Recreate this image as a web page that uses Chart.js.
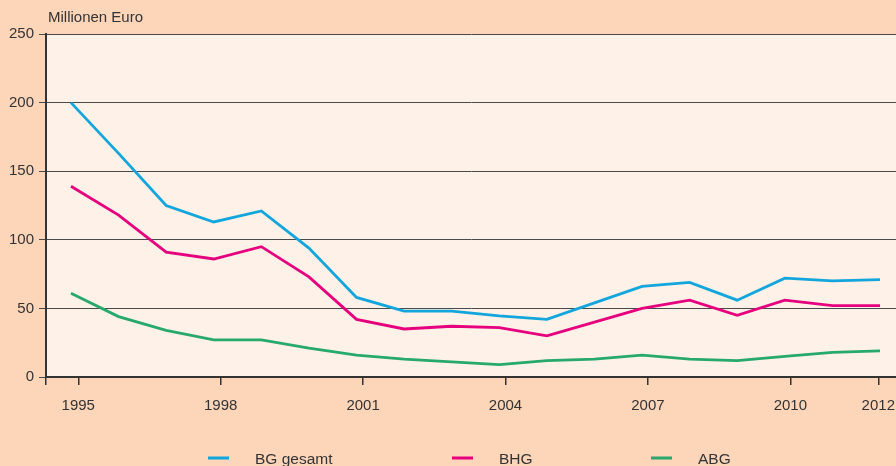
<!DOCTYPE html>
<html>
<head>
<meta charset="utf-8">
<script src="https://cdn.jsdelivr.net/npm/chart.js@4/dist/chart.umd.min.js"></script>
<style>
html,body{margin:0;padding:0;background:#fdd5b9;}
#wrap{width:896px;height:466px;position:relative;}
</style>
</head>
<body>
<div id="wrap"><canvas id="c" width="896" height="466"></canvas></div>
<script>
const years = [1995,1996,1997,1998,1999,2000,2001,2002,2003,2004,2005,2006,2007,2008,2009,2010,2011,2012];
const bgGesamt = [200,163,125,113,121,94,58,48,48,44.5,42,54,66,69,56,72,70,71];
const bhg = [139,118,91,86,95,73,42,35,37,36,30,40,50,56,45,56,52,52];
const abg = [61,44,34,27,27,21,16,13,11,9,12,13,16,13,12,15,18,19];
const tickYears = [1995,1998,2001,2004,2007,2010,2012];
const seriesNames = ['BG gesamt','BHG','ABG'];
const seriesColors = ['#13a6dc','#e6007e','#27a96b'];
const yTitle = 'Millionen Euro';

const FONT = '"Liberation Sans", Arial, sans-serif';
// the last year tick sits slightly left of its even position in the original layout
const LAST_TICK_SHIFT = -0.147;

const bgPlugin = {
  id: 'bgPlugin',
  beforeDraw(chart) {
    const ctx = chart.ctx, a = chart.chartArea;
    ctx.save();
    ctx.fillStyle = '#fdd5b9';
    ctx.fillRect(0, 0, chart.width, chart.height);
    ctx.fillStyle = '#fdf1e8';
    ctx.fillRect(a.left, a.top, a.right - a.left, a.bottom - a.top);
    ctx.restore();
  },
  afterDraw(chart) {
    const ctx = chart.ctx;
    ctx.save();
    ctx.font = '15px ' + FONT;
    ctx.fillStyle = '#333';
    ctx.textBaseline = 'middle';
    ctx.textAlign = 'left';
    ctx.fillText(yTitle, 48, 18);
    const lx = [208, 452, 651];
    chart.data.datasets.forEach((ds, i) => {
      ctx.strokeStyle = ds.borderColor;
      ctx.lineWidth = 3;
      ctx.beginPath();
      ctx.moveTo(lx[i], 458);
      ctx.lineTo(lx[i] + 21, 458);
      ctx.stroke();
      ctx.fillStyle = '#333';
      ctx.font = '15.5px ' + FONT;
      ctx.fillText(ds.label, lx[i] + 47, 460);
    });
    ctx.restore();
  }
};

const mk = (arr) => years.map((y, i) => ({x: y, y: arr[i]}));
const lastYear = tickYears[tickYears.length - 1];
const tickPos = tickYears.map(v => v === lastYear ? v + LAST_TICK_SHIFT : v);

new Chart(document.getElementById('c'), {
  type: 'line',
  data: {
    datasets: [bgGesamt, bhg, abg].map((arr, i) => ({
      label: seriesNames[i],
      data: mk(arr),
      borderColor: seriesColors[i],
      backgroundColor: seriesColors[i],
      borderWidth: 2.8,
      pointRadius: 0,
      tension: 0,
      xAxisID: 'x',
      yAxisID: 'y'
    }))
  },
  options: {
    responsive: false,
    animation: false,
    devicePixelRatio: 1,
    layout: {padding: {top: 34, right: 0, left: 0, bottom: 0}},
    plugins: {legend: {display: false}, tooltip: {enabled: false}},
    scales: {
      x: {
        type: 'linear', display: false, min: 1994.475, max: 2012.336
      },
      x2: {
        type: 'linear', position: 'bottom', min: 1994.32, max: 2012.226,
        afterBuildTicks(s) { s.ticks = [{value: s.min}].concat(tickPos.map(v => ({value: v}))); },
        afterFit(s) { s.height = 89; s.paddingRight = 0; s.paddingLeft = 0; },
        grid: {drawOnChartArea: false, drawTicks: true, tickLength: 8, color: '#333', lineWidth: 1.5},
        border: {display: true, color: '#333', width: 2},
        ticks: {
          autoSkip: false, maxRotation: 0, padding: 12, color: '#333',
          font: {family: FONT, size: 15},
          callback: (v) => {
            const k = tickPos.indexOf(v);
            return k >= 0 ? String(tickYears[k]) : '';
          }
        }
      },
      y: {
        type: 'linear', min: 0, max: 250,
        afterFit(s) { s.width = 46; s.paddingTop = 0; s.paddingBottom = 0; },
        grid: {color: '#4a4a4a', lineWidth: 1, tickLength: 7, drawTicks: true},
        border: {display: true, color: '#333', width: 2},
        ticks: {stepSize: 50, padding: 5, color: '#333', font: {family: FONT, size: 15}}
      }
    }
  },
  plugins: [bgPlugin]
});
</script>
</body>
</html>
